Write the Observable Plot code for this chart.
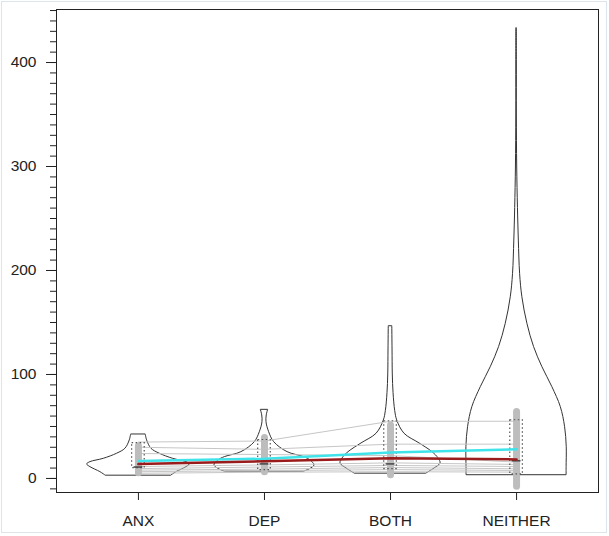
<!DOCTYPE html>
<html><head><meta charset="utf-8">
<script src="https://cdn.jsdelivr.net/npm/d3@7"></script>
<script src="https://cdn.jsdelivr.net/npm/@observablehq/plot@0.6"></script>
<style>
body{margin:0;background:#fff;}
#wrap{position:relative;width:609px;height:536px;}
#border{position:absolute;left:1px;top:1px;width:604px;height:530px;border:1px solid #dce5ec;pointer-events:none;}
</style></head><body><div id="wrap"><div id="border"></div></div>
<script>
// ---- data ----
const categories = ["ANX", "DEP", "BOTH", "NEITHER"];

// violin outlines: value levels and half widths (in category units)
const anxLevels = [2.9, 6.1, 10.9, 13.5, 15.7, 18.9, 23.8, 28.6, 36.5, 42.3];
const anxHalfWidth = [0.262, 0.302, 0.381, 0.407, 0.381, 0.275, 0.169, 0.103, 0.069, 0.058];
const depLevels = [6.7, 8.7, 12.5, 17.3, 20.5, 25.3, 34.9, 44.5, 54.1, 60.6, 66];
const depHalfWidth = [0.317, 0.357, 0.397, 0.365, 0.315, 0.183, 0.077, 0.037, 0.016, 0.018, 0.029];
const bothLevels = [4.8, 9.6, 14.4, 19.2, 25.3, 33.7, 43, 55.8, 65, 82, 100, 124, 146.4];
const bothHalfWidth = [0.286, 0.349, 0.397, 0.381, 0.333, 0.230, 0.111, 0.053, 0.037, 0.024, 0.018, 0.016, 0.014];
const neitherLevels = [3.5, 10.9, 30.1, 49.3, 68.6, 87.8, 107, 126.3, 148.7, 174.3, 196.8, 228.8, 260, 300, 350, 400, 433];
const neitherHalfWidth = [0.397, 0.397, 0.398, 0.385, 0.351, 0.284, 0.205, 0.139, 0.086, 0.046, 0.028, 0.018, 0.011, 0.005, 0.002, 0.002, 0.002];

// individual subject lines
const subjANX = [35, 30, 24, 11.5, 9.5, 8, 6.5, 5];
const subjDEP = [36, 28, 23, 13, 11, 9, 7.5, 6];
const subjBOTH = [55, 33, 22, 15, 12.5, 10.5, 8.5, 6.5];
const subjNEITHER = [55, 33, 15.7, 13.5, 11.5, 9.3, 7.7, 6.1];

// data ranges (grey bars), quartile boxes, small marks
const rangeLow = [5, 6, 3, -8];
const rangeHigh = [31, 39, 51, 64];
const boxLow = [10, 8, 9, 4];
const boxHigh = [34, 37, 55, 56];
const centerMark = [11, 14, 14, 17];

// group summary lines
const meanValues = [16.9, 19, 25, 28];
const medianValues = [13.8, 16.5, 19.5, 18.3];

const yMajorTicks = [0, 100, 200, 300, 400];
const yMinorTicks = d3.range(-10, 451, 10);

// ---- build tables ----
const violinSets = [
  [anxLevels, anxHalfWidth], [depLevels, depHalfWidth],
  [bothLevels, bothHalfWidth], [neitherLevels, neitherHalfWidth]
];
const violinRows = violinSets.flatMap(([lv, hw], i) =>
  lv.map((v, j) => ({cat: categories[i], y: v, x1: i + 1 - hw[j], x2: i + 1 + hw[j]})));
const subjSets = [subjANX, subjDEP, subjBOTH, subjNEITHER];
const subjRows = subjSets.flatMap((arr, i) => arr.map((v, s) => ({s, x: i + 1, y: v})));
const groupRows = categories.map((c, i) => ({
  cat: c, x: i + 1, lo: rangeLow[i], hi: rangeHigh[i], b1: boxLow[i], b2: boxHigh[i],
  mark: centerMark[i], mean: meanValues[i], median: medianValues[i]
}));

const chart = Plot.plot({
  width: 609, height: 536,
  marginLeft: 56, marginRight: 11, marginTop: 9, marginBottom: 44,
  x: {domain: [0.35, 4.65], axis: null},
  y: {domain: [-13.5, 451], axis: null},
  style: {fontFamily: "'Liberation Sans', Arial, sans-serif", fontSize: "15.5px", color: "#222", background: "white"},
  marks: [
    Plot.axisY({ticks: yMinorTicks, tickSize: 6, tickFormat: () => "", label: null, stroke: "#222"}),
    Plot.axisY({ticks: yMajorTicks, tickSize: 10, tickPadding: 10, label: null, stroke: "#222", fontSize: 15.5}),
    Plot.axisX({ticks: [1, 2, 3, 4], tickFormat: d => categories[d - 1], tickSize: 8, tickPadding: 14, label: null, stroke: "#222", fontSize: 15.5}),
    Plot.areaX(violinRows, {y: "y", x1: "x1", x2: "x2", z: "cat", fill: "none", stroke: "#333", strokeWidth: 1, strokeLinejoin: "round", curve: "catmull-rom"}),
    Plot.line(subjRows, {x: "x", y: "y", z: "s", stroke: "#c6c6c6", strokeWidth: 1}),
    Plot.ruleX(groupRows, {x: "x", y1: "lo", y2: "hi", stroke: "#bdbdbd", strokeWidth: 7, strokeLinecap: "round"}),
    Plot.rect(groupRows, {x1: d => d.x - 0.05, x2: d => d.x + 0.05, y1: "b1", y2: "b2", fill: "none", stroke: "#555", strokeWidth: 1.2, strokeDasharray: "1.5,2.5"}),
    Plot.ruleY(groupRows, {y: "mark", x1: d => d.x - 0.035, x2: d => d.x + 0.035, stroke: "#444", strokeWidth: 1.5}),
    Plot.line(groupRows, {x: "x", y: "mean", stroke: "#3fe3ea", strokeWidth: 2.5}),
    Plot.line(groupRows, {x: "x", y: "median", stroke: "#9a1b1b", strokeWidth: 2.5}),
    Plot.frame({stroke: "#222"})
  ]
});
document.getElementById("wrap").prepend(chart);
</script>
</body></html>
